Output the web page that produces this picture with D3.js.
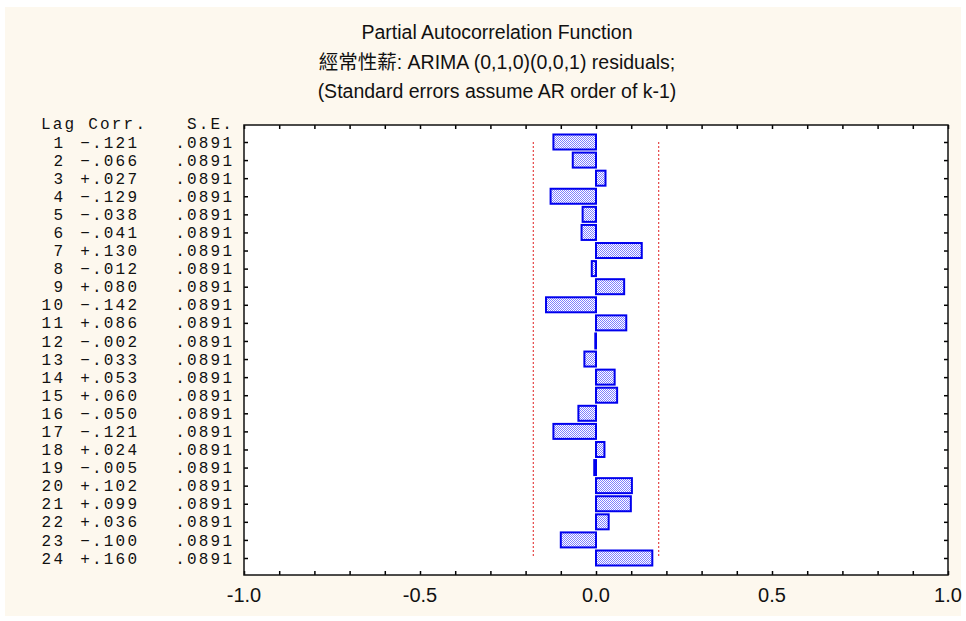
<!DOCTYPE html>
<html>
<head>
<meta charset="utf-8">
<script src="https://cdn.jsdelivr.net/npm/d3@7"></script>
<style>
  body { margin: 0; background: #fff; }
  .title { font-family: "Liberation Sans", Arial, "Noto Sans CJK TC", sans-serif; font-size: 19.5px; fill: #111; }
  .tbl { font-family: "Liberation Mono", "Courier New", monospace; font-size: 16px; fill: #111; }
  .tick-lbl { font-family: "Liberation Sans", Arial, sans-serif; font-size: 20px; fill: #111; }
</style>
</head>
<body>
<div id="chart"></div>
<script>
// 資料
const lags = d3.range(1, 25);
const corr = [-0.121, -0.066, 0.027, -0.129, -0.038, -0.041, 0.130, -0.012, 0.080, -0.142,
              0.086, -0.002, -0.033, 0.053, 0.060, -0.050, -0.121, 0.024, -0.005, 0.102,
              0.099, 0.036, -0.100, 0.160];
const se = Array(24).fill(0.0891);
const xTickLabels = [-1.0, -0.5, 0.0, 0.5, 1.0];
const titles = ["Partial Autocorrelation Function",
                "經常性薪: ARIMA (0,1,0)(0,0,1) residuals;",
                "(Standard errors assume AR order of k-1)"];

const W = 966, H = 621;
const plot = {left: 244, right: 948, top: 125, bottom: 575};

const svg = d3.select('#chart').append('svg').attr('width', W).attr('height', H);

// 背景
svg.append('rect').attr('x', 5).attr('y', 7).attr('width', 956).attr('height', 609).attr('fill', '#fdf8ee');
svg.append('rect').attr('x', plot.left).attr('y', plot.top)
   .attr('width', plot.right - plot.left).attr('height', plot.bottom - plot.top).attr('fill', '#fff');

// 格紋填色
const defs = svg.append('defs');
const pat = defs.append('pattern').attr('id', 'checker').attr('patternUnits', 'userSpaceOnUse')
                .attr('width', 2).attr('height', 2);
pat.append('rect').attr('width', 2).attr('height', 2).attr('fill', '#ffffff');
pat.append('rect').attr('width', 1).attr('height', 1).attr('fill', '#8080ff');
pat.append('rect').attr('x', 1).attr('y', 1).attr('width', 1).attr('height', 1).attr('fill', '#8080ff');

const x = d3.scaleLinear().domain([-1, 1]).range([plot.left, plot.right]);
const y = d3.scalePoint().domain(lags).range([142, 558]);

// 標題
svg.selectAll('.title').data(titles).enter().append('text')
   .attr('class', 'title').attr('x', 497).attr('y', (d, i) => 39 + i * 29.5)
   .attr('text-anchor', 'middle').text(d => d);

// 信賴界限
const limit = 2 * se[0];
[-limit, limit].forEach(v => {
  svg.append('line').attr('x1', x(v)).attr('x2', x(v))
     .attr('y1', y(1)).attr('y2', y(24))
     .attr('stroke', '#e02020').attr('stroke-width', 1).attr('stroke-dasharray', '2,2');
});

// 長條
const bh = 15;
svg.selectAll('.bar').data(lags).enter().append('rect')
   .attr('class', 'bar')
   .attr('x', (d, i) => Math.min(x(0), x(corr[i])))
   .attr('y', d => y(d) - bh / 2)
   .attr('width', (d, i) => Math.abs(x(corr[i]) - x(0)))
   .attr('height', bh)
   .attr('fill', 'url(#checker)')
   .attr('stroke', '#0000ee').attr('stroke-width', 2);

// 軸
const xTicks = d3.range(-10, 11).map(d => d / 10);
svg.append('g').attr('transform', `translate(0,${plot.bottom})`)
   .call(d3.axisBottom(x).tickValues(xTicks).tickSizeInner(-4).tickSizeOuter(0).tickFormat(''))
   .call(g => g.select('.domain').remove());
svg.append('g').attr('transform', `translate(0,${plot.top})`)
   .call(d3.axisTop(x).tickValues(xTicks).tickSizeInner(-4).tickSizeOuter(0).tickFormat(''))
   .call(g => g.select('.domain').remove());
svg.append('g').attr('transform', `translate(${plot.left},0)`)
   .call(d3.axisLeft(y).tickSizeInner(-4).tickSizeOuter(0).tickFormat(''))
   .call(g => g.select('.domain').remove());
svg.append('g').attr('transform', `translate(${plot.right},0)`)
   .call(d3.axisRight(y).tickSizeInner(-4).tickSizeOuter(0).tickFormat(''))
   .call(g => g.select('.domain').remove());
svg.selectAll('.tick line').attr('stroke', '#000').attr('stroke-width', 1.5);

// 外框
svg.append('rect').attr('x', plot.left).attr('y', plot.top)
   .attr('width', plot.right - plot.left).attr('height', plot.bottom - plot.top)
   .attr('fill', 'none').attr('stroke', '#111').attr('stroke-width', 1.5);

// x 軸標籤
svg.selectAll('.tick-lbl').data(xTickLabels).enter().append('text')
   .attr('class', 'tick-lbl').attr('x', d => x(d)).attr('y', 602)
   .attr('text-anchor', 'middle').text(d => d3.format('.1f')(d).replace('−', '-'));

// 左側表格
const ls = 2.2;
const tbl = svg.append('g').attr('class', 'tbl').style('letter-spacing', ls + 'px');
tbl.append('text').attr('x', 41).attr('y', y(1) - 18.5).attr('dy', '0.35em').text('Lag Corr.');
tbl.append('text').attr('x', 232 + ls).attr('y', y(1) - 18.5).attr('dy', '0.35em').attr('text-anchor', 'end').text('S.E.');
const fmtC = v => (v >= 0 ? '+' : '\u2212') + d3.format('.3f')(Math.abs(v)).replace(/^0/, '');
const fmtS = v => d3.format('.4f')(v).replace(/^0/, '');
lags.forEach((lag, i) => {
  tbl.append('text').attr('x', 63 + ls).attr('y', y(lag)).attr('dy', '0.35em').attr('text-anchor', 'end').text(lag);
  tbl.append('text').attr('x', 137 + ls).attr('y', y(lag)).attr('dy', '0.35em').attr('text-anchor', 'end').text(fmtC(corr[i]));
  tbl.append('text').attr('x', 232 + ls).attr('y', y(lag)).attr('dy', '0.35em').attr('text-anchor', 'end').text(fmtS(se[i]));
});
</script>
</body>
</html>
